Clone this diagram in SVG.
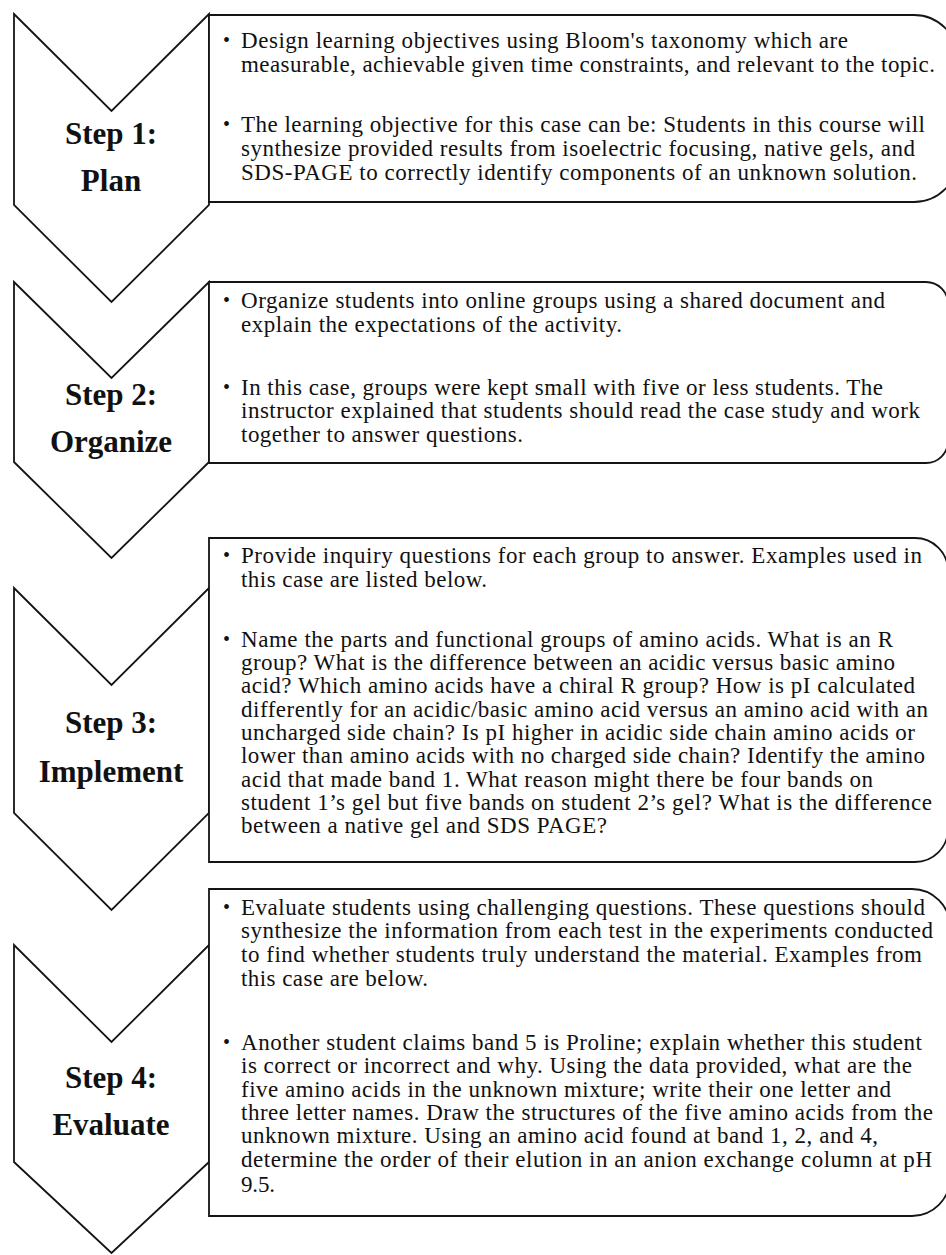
<svg xmlns="http://www.w3.org/2000/svg" width="946" height="1255" viewBox="0 0 946 1255">
<style>
.chev{fill:#fff;stroke:#141414;stroke-width:1.8;stroke-linejoin:miter}
.box{fill:#fff;stroke:#141414;stroke-width:1.8}
.step{font-family:"Liberation Serif","Times New Roman",serif;font-weight:bold;font-size:31px;fill:#111;text-anchor:middle}
.t{font-family:"Liberation Serif","Times New Roman",serif;font-size:23px;fill:#111}
.b{font-family:"Liberation Serif","Times New Roman",serif;font-size:20px;fill:#111}
</style>
<rect width="946" height="1255" fill="#fff"/>
<g id="step1">
<polygon class="chev" points="14,14 111.5,111 209,14 209,205 111.5,302 14,205"/>
<path class="box" d="M209,15 H914 A44,44 0 0 1 958,59 V158 A44,44 0 0 1 914,202 H209 Z"/>
<text class="step" x="111" y="144">Step 1:</text>
<text class="step" x="111" y="191">Plan</text>
<text class="b" x="223" y="47">•</text>
<text class="t" x="241" y="48" textLength="607">Design learning objectives using Bloom's taxonomy which are</text>
<text class="t" x="241" y="72" textLength="694">measurable, achievable given time constraints, and relevant to the topic.</text>
<text class="b" x="223" y="131">•</text>
<text class="t" x="241" y="132" textLength="684">The learning objective for this case can be: Students in this course will</text>
<text class="t" x="241" y="156" textLength="674">synthesize provided results from isoelectric focusing, native gels, and</text>
<text class="t" x="241" y="180" textLength="676">SDS-PAGE to correctly identify components of an unknown solution.</text>
</g>
<g id="step2">
<polygon class="chev" points="14,282 111.5,378 209,282 209,462 111.5,558 14,462"/>
<path class="box" d="M209,282 H926 A22,22 0 0 1 948,304 V441 A22,22 0 0 1 926,463 H209 Z"/>
<text class="step" x="111" y="405">Step 2:</text>
<text class="step" x="111" y="452">Organize</text>
<text class="b" x="223" y="307">•</text>
<text class="t" x="241" y="308" textLength="644">Organize students into online groups using a shared document and</text>
<text class="t" x="241" y="332" textLength="381">explain the expectations of the activity.</text>
<text class="b" x="223" y="394">•</text>
<text class="t" x="241" y="395" textLength="642">In this case, groups were kept small with five or less students. The</text>
<text class="t" x="241" y="418" textLength="679">instructor explained that students should read the case study and work</text>
<text class="t" x="241" y="442" textLength="282">together to answer questions.</text>
</g>
<g id="step3">
<polygon class="chev" points="14,588 111.5,685 209,588 209,813 111.5,910 14,813"/>
<path class="box" d="M209,538 H915 A33,33 0 0 1 948,571 V829 A33,33 0 0 1 915,862 H209 Z"/>
<text class="step" x="111" y="733">Step 3:</text>
<text class="step" x="111" y="782">Implement</text>
<text class="b" x="223" y="562">•</text>
<text class="t" x="241" y="563" textLength="681">Provide inquiry questions for each group to answer. Examples used in</text>
<text class="t" x="241" y="587" textLength="246">this case are listed below.</text>
<text class="b" x="223" y="646">•</text>
<text class="t" x="241" y="647" textLength="652">Name the parts and functional groups of amino acids. What is an R</text>
<text class="t" x="241" y="670" textLength="654">group? What is the difference between an acidic versus basic amino</text>
<text class="t" x="241" y="693" textLength="674">acid? Which amino acids have a chiral R group? How is pI calculated</text>
<text class="t" x="241" y="717" textLength="687">differently for an acidic/basic amino acid versus an amino acid with an</text>
<text class="t" x="241" y="740" textLength="674">uncharged side chain? Is pI higher in acidic side chain amino acids or</text>
<text class="t" x="241" y="763" textLength="684">lower than amino acids with no charged side chain? Identify the amino</text>
<text class="t" x="241" y="787" textLength="632">acid that made band 1. What reason might there be four bands on</text>
<text class="t" x="241" y="810" textLength="691">student 1’s gel but five bands on student 2’s gel? What is the difference</text>
<text class="t" x="241" y="833" textLength="366">between a native gel and SDS PAGE?</text>
</g>
<g id="step4">
<polygon class="chev" points="14,945 111.5,1042 209,945 209,1162 111.5,1253 14,1162"/>
<path class="box" d="M209,889 H912 A38,38 0 0 1 950,927 V1178 A38,38 0 0 1 912,1216 H209 Z"/>
<text class="step" x="111" y="1088">Step 4:</text>
<text class="step" x="111" y="1135">Evaluate</text>
<text class="b" x="223" y="914">•</text>
<text class="t" x="241" y="915" textLength="684">Evaluate students using challenging questions. These questions should</text>
<text class="t" x="241" y="938" textLength="692">synthesize the information from each test in the experiments conducted</text>
<text class="t" x="241" y="962" textLength="681">to find whether students truly understand the material. Examples from</text>
<text class="t" x="241" y="986" textLength="187">this case are below.</text>
<text class="b" x="223" y="1049">•</text>
<text class="t" x="241" y="1050" textLength="681">Another student claims band 5 is Proline; explain whether this student</text>
<text class="t" x="241" y="1073" textLength="671">is correct or incorrect and why. Using the data provided, what are the</text>
<text class="t" x="241" y="1097" textLength="650">five amino acids in the unknown mixture; write their one letter and</text>
<text class="t" x="241" y="1120" textLength="692">three letter names. Draw the structures of the five amino acids from the</text>
<text class="t" x="241" y="1143" textLength="637">unknown mixture. Using an amino acid found at band 1, 2, and 4,</text>
<text class="t" x="241" y="1167" textLength="691">determine the order of their elution in an anion exchange column at pH</text>
<text class="t" x="241" y="1192" textLength="34">9.5.</text>
</g>
<g id="connectors"></g>
</svg>
